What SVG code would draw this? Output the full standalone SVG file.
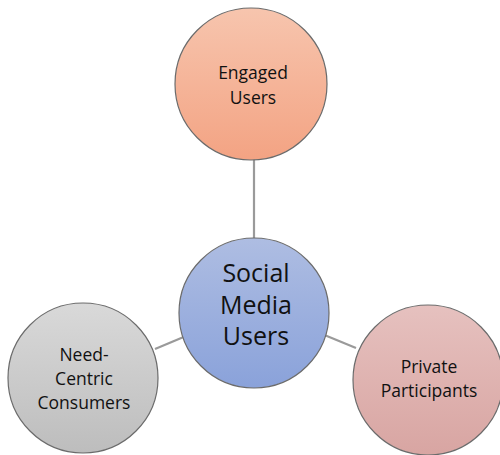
<svg xmlns="http://www.w3.org/2000/svg" width="500" height="455" viewBox="0 0 500 455">
  <defs>
    <linearGradient id="gOrange" x1="0" y1="0" x2="0" y2="1">
      <stop offset="0" stop-color="#f7c5ae"/>
      <stop offset="1" stop-color="#f3a383"/>
    </linearGradient>
    <linearGradient id="gBlue" x1="0" y1="0" x2="0" y2="1">
      <stop offset="0" stop-color="#aebde2"/>
      <stop offset="1" stop-color="#8aa2da"/>
    </linearGradient>
    <linearGradient id="gGray" x1="0" y1="0" x2="0" y2="1">
      <stop offset="0" stop-color="#d9d9d9"/>
      <stop offset="1" stop-color="#bdbdbd"/>
    </linearGradient>
    <linearGradient id="gRose" x1="0" y1="0" x2="0" y2="1">
      <stop offset="0" stop-color="#e6c1bf"/>
      <stop offset="1" stop-color="#d8a5a2"/>
    </linearGradient>
  </defs>
  <style>
    .node { stroke: #6b6b6b; stroke-width: 1.2; }
    .link { stroke: #9a9a9a; stroke-width: 2.2; fill: none; }
    .label { font-family: "Open Sans", "Liberation Sans", sans-serif; fill: #111; text-anchor: middle; }
    .small { font-size: 17.5px; }
    .big { font-size: 25px; }
  </style>
  <rect width="500" height="455" fill="#ffffff"/>

  <g id="connectors">
    <line class="link" x1="254" y1="159" x2="254" y2="238"/>
    <line class="link" x1="186" y1="336" x2="155" y2="349"/>
    <line class="link" x1="322" y1="334" x2="356" y2="348"/>
  </g>

  <g id="engaged-users">
    <circle class="node" cx="251" cy="84" r="76" fill="url(#gOrange)"/>
    <text class="label small" x="253" y="79">Engaged</text>
    <text class="label small" x="253" y="104">Users</text>
  </g>

  <g id="social-media-users">
    <circle class="node" cx="254" cy="313" r="75" fill="url(#gBlue)"/>
    <text class="label big" x="256" y="282">Social</text>
    <text class="label big" x="256" y="314">Media</text>
    <text class="label big" x="256" y="345">Users</text>
  </g>

  <g id="need-centric-consumers">
    <circle class="node" cx="83" cy="378" r="75" fill="url(#gGray)"/>
    <text class="label small" x="84" y="361">Need-</text>
    <text class="label small" x="84" y="385">Centric</text>
    <text class="label small" x="84" y="409">Consumers</text>
  </g>

  <g id="private-participants">
    <circle class="node" cx="428" cy="380" r="75" fill="url(#gRose)"/>
    <text class="label small" x="429" y="373">Private</text>
    <text class="label small" x="429" y="397">Participants</text>
  </g>
</svg>
